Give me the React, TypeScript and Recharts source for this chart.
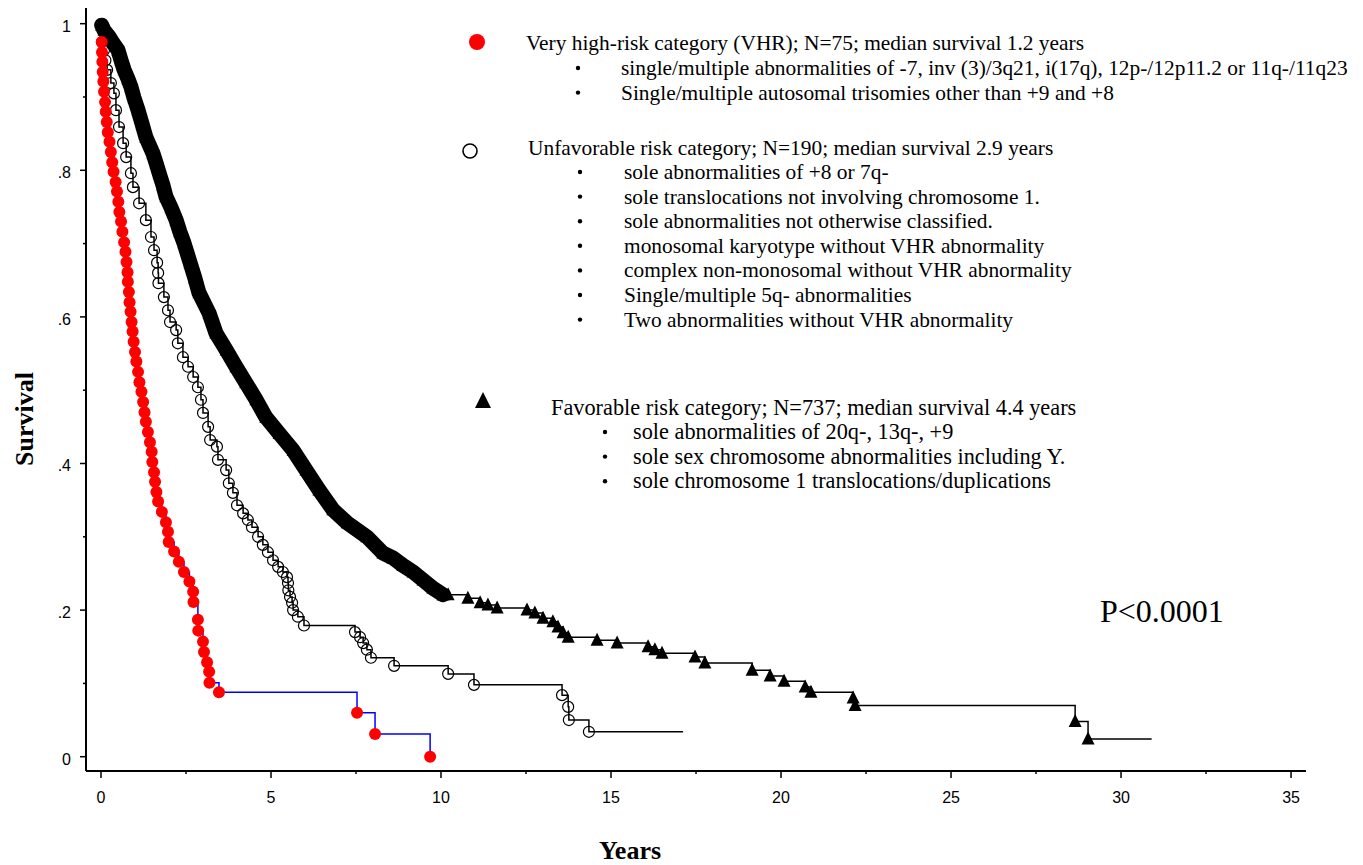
import React from 'react';
import { LineChart, Line, XAxis, YAxis } from 'recharts';

type Pt = { t: number; s: number };

// survival estimates, t in years
const vhrPoints: Pt[] = [
  { t: 0.02, s: 0.975 }, { t: 0.03, s: 0.961 }, { t: 0.04, s: 0.948 }, { t: 0.05, s: 0.934 },
  { t: 0.07, s: 0.921 }, { t: 0.09, s: 0.907 }, { t: 0.12, s: 0.893 }, { t: 0.14, s: 0.88 },
  { t: 0.17, s: 0.866 }, { t: 0.2, s: 0.852 }, { t: 0.25, s: 0.839 }, { t: 0.29, s: 0.825 },
  { t: 0.33, s: 0.811 }, { t: 0.37, s: 0.798 }, { t: 0.43, s: 0.784 }, { t: 0.47, s: 0.771 },
  { t: 0.51, s: 0.757 }, { t: 0.54, s: 0.743 }, { t: 0.59, s: 0.73 }, { t: 0.63, s: 0.716 },
  { t: 0.68, s: 0.702 }, { t: 0.72, s: 0.689 }, { t: 0.75, s: 0.675 }, { t: 0.78, s: 0.661 },
  { t: 0.79, s: 0.648 }, { t: 0.82, s: 0.634 }, { t: 0.84, s: 0.62 }, { t: 0.87, s: 0.607 },
  { t: 0.9, s: 0.593 }, { t: 0.93, s: 0.58 }, { t: 0.96, s: 0.566 }, { t: 1.0, s: 0.552 },
  { t: 1.04, s: 0.539 }, { t: 1.09, s: 0.525 }, { t: 1.13, s: 0.511 }, { t: 1.19, s: 0.498 },
  { t: 1.24, s: 0.484 }, { t: 1.28, s: 0.47 }, { t: 1.32, s: 0.457 }, { t: 1.38, s: 0.443 },
  { t: 1.44, s: 0.429 }, { t: 1.49, s: 0.416 }, { t: 1.51, s: 0.402 }, { t: 1.56, s: 0.388 },
  { t: 1.59, s: 0.375 }, { t: 1.63, s: 0.361 }, { t: 1.68, s: 0.348 }, { t: 1.79, s: 0.334 },
  { t: 1.91, s: 0.32 }, { t: 1.97, s: 0.307 }, { t: 1.99, s: 0.293 }, { t: 2.15, s: 0.28 },
  { t: 2.29, s: 0.266 }, { t: 2.44, s: 0.252 }, { t: 2.6, s: 0.239 }, { t: 2.71, s: 0.225 },
  { t: 2.72, s: 0.211 }, { t: 2.85, s: 0.187 }, { t: 2.86, s: 0.172 }, { t: 3.0, s: 0.157 },
  { t: 3.03, s: 0.143 }, { t: 3.12, s: 0.129 }, { t: 3.18, s: 0.116 }, { t: 3.19, s: 0.101 },
  { t: 3.47, s: 0.088 }, { t: 7.53, s: 0.06 }, { t: 8.06, s: 0.031 }, { t: 9.68, s: 0.0 },
];

const unfavPoints: Pt[] = [
  { t: 0.03, s: 0.975 }, { t: 0.09, s: 0.964 }, { t: 0.13, s: 0.95 }, { t: 0.18, s: 0.937 },
  { t: 0.29, s: 0.919 }, { t: 0.38, s: 0.905 }, { t: 0.44, s: 0.882 }, { t: 0.53, s: 0.859 },
  { t: 0.65, s: 0.837 }, { t: 0.74, s: 0.818 }, { t: 0.88, s: 0.796 }, { t: 0.94, s: 0.777 },
  { t: 1.12, s: 0.755 }, { t: 1.32, s: 0.732 }, { t: 1.47, s: 0.709 }, { t: 1.56, s: 0.691 },
  { t: 1.65, s: 0.674 }, { t: 1.68, s: 0.66 }, { t: 1.69, s: 0.646 }, { t: 1.85, s: 0.627 },
  { t: 1.97, s: 0.609 }, { t: 2.03, s: 0.593 }, { t: 2.21, s: 0.582 }, { t: 2.26, s: 0.564 },
  { t: 2.41, s: 0.545 }, { t: 2.56, s: 0.532 }, { t: 2.71, s: 0.518 }, { t: 2.85, s: 0.504 },
  { t: 2.94, s: 0.487 }, { t: 3.0, s: 0.469 }, { t: 3.15, s: 0.45 }, { t: 3.21, s: 0.432 },
  { t: 3.41, s: 0.423 }, { t: 3.44, s: 0.405 }, { t: 3.68, s: 0.391 }, { t: 3.76, s: 0.373 },
  { t: 3.88, s: 0.36 }, { t: 4.0, s: 0.343 }, { t: 4.18, s: 0.332 }, { t: 4.32, s: 0.323 },
  { t: 4.44, s: 0.313 }, { t: 4.62, s: 0.3 }, { t: 4.76, s: 0.289 }, { t: 4.91, s: 0.279 },
  { t: 5.06, s: 0.268 }, { t: 5.21, s: 0.259 }, { t: 5.35, s: 0.252 }, { t: 5.47, s: 0.245 },
  { t: 5.5, s: 0.237 }, { t: 5.51, s: 0.227 }, { t: 5.56, s: 0.218 }, { t: 5.62, s: 0.21 },
  { t: 5.65, s: 0.2 }, { t: 5.79, s: 0.191 }, { t: 5.97, s: 0.179 }, { t: 7.47, s: 0.17 },
  { t: 7.62, s: 0.163 }, { t: 7.71, s: 0.155 }, { t: 7.82, s: 0.146 }, { t: 7.94, s: 0.135 },
  { t: 8.62, s: 0.124 }, { t: 10.21, s: 0.113 }, { t: 10.97, s: 0.098 }, { t: 13.56, s: 0.084 },
  { t: 13.74, s: 0.068 }, { t: 13.76, s: 0.05 }, { t: 14.35, s: 0.034 },
];
const unfavLastFollowUp = 17.12;

const favPoints: Pt[] = [
  { t: 0.02, s: 0.998 }, { t: 0.09, s: 0.991 }, { t: 0.24, s: 0.982 }, { t: 0.35, s: 0.974 },
  { t: 0.5, s: 0.964 }, { t: 0.59, s: 0.95 }, { t: 0.68, s: 0.937 }, { t: 0.79, s: 0.925 },
  { t: 0.88, s: 0.914 }, { t: 0.97, s: 0.899 }, { t: 1.09, s: 0.882 }, { t: 1.21, s: 0.863 },
  { t: 1.32, s: 0.845 }, { t: 1.53, s: 0.823 }, { t: 1.62, s: 0.81 }, { t: 1.71, s: 0.796 },
  { t: 1.82, s: 0.78 }, { t: 1.91, s: 0.764 }, { t: 2.06, s: 0.749 }, { t: 2.21, s: 0.732 },
  { t: 2.32, s: 0.716 }, { t: 2.44, s: 0.701 }, { t: 2.62, s: 0.674 }, { t: 2.76, s: 0.653 },
  { t: 2.88, s: 0.633 }, { t: 3.18, s: 0.605 }, { t: 3.38, s: 0.578 }, { t: 3.68, s: 0.555 },
  { t: 3.97, s: 0.532 }, { t: 4.26, s: 0.51 }, { t: 4.56, s: 0.487 }, { t: 4.85, s: 0.463 },
  { t: 5.24, s: 0.441 }, { t: 5.65, s: 0.418 }, { t: 6.03, s: 0.391 }, { t: 6.41, s: 0.364 },
  { t: 6.82, s: 0.337 }, { t: 7.24, s: 0.319 }, { t: 7.82, s: 0.3 }, { t: 8.29, s: 0.278 },
  { t: 8.59, s: 0.271 }, { t: 8.88, s: 0.261 }, { t: 9.18, s: 0.252 }, { t: 9.47, s: 0.241 },
  { t: 9.76, s: 0.23 }, { t: 10.06, s: 0.221 }, { t: 10.21, s: 0.221 }, { t: 10.79, s: 0.216 },
  { t: 11.15, s: 0.21 }, { t: 11.38, s: 0.207 }, { t: 11.65, s: 0.203 }, { t: 12.53, s: 0.2 },
  { t: 12.76, s: 0.196 }, { t: 13.0, s: 0.189 }, { t: 13.29, s: 0.184 }, { t: 13.44, s: 0.177 },
  { t: 13.59, s: 0.169 }, { t: 13.74, s: 0.163 }, { t: 14.59, s: 0.159 }, { t: 15.18, s: 0.155 },
  { t: 16.09, s: 0.15 }, { t: 16.29, s: 0.146 }, { t: 16.5, s: 0.141 }, { t: 17.47, s: 0.136 },
  { t: 17.76, s: 0.128 }, { t: 19.15, s: 0.118 }, { t: 19.68, s: 0.11 }, { t: 20.09, s: 0.103 },
  { t: 20.71, s: 0.095 }, { t: 20.88, s: 0.088 }, { t: 22.12, s: 0.08 }, { t: 22.18, s: 0.07 },
  { t: 28.65, s: 0.048 }, { t: 29.03, s: 0.024 },
];
const favLastFollowUp = 30.9;

const xTicks = [0, 2.5, 5, 7.5, 10, 12.5, 15, 17.5, 20, 22.5, 25, 27.5, 30, 32.5, 35];
const yTicks = [0, 0.1, 0.2, 0.3, 0.4, 0.5, 0.6, 0.7, 0.8, 0.9, 1];

const vhrTitle = 'Very high-risk category (VHR); N=75; median survival 1.2 years';
const vhrNotes = [
  'single/multiple abnormalities of -7, inv (3)/3q21, i(17q), 12p-/12p11.2 or 11q-/11q23',
  'Single/multiple autosomal trisomies other than +9 and +8',
];
const unfavTitle = 'Unfavorable risk category; N=190; median survival 2.9 years';
const unfavNotes = [
  'sole abnormalities of +8 or 7q-',
  'sole translocations not involving chromosome 1.',
  'sole abnormalities not otherwise classified.',
  'monosomal karyotype without VHR abnormality',
  'complex non-monosomal without VHR abnormality',
  'Single/multiple 5q- abnormalities',
  'Two abnormalities without VHR abnormality',
];
const favTitle = 'Favorable risk category; N=737; median survival 4.4 years';
const favNotes = [
  'sole abnormalities of 20q-, 13q-, +9',
  'sole sex chromosome abnormalities including Y.',
  'sole chromosome 1 translocations/duplications',
];
const pValue = 'P<0.0001';

const W = 1363;
const H = 865;
const SERIF = "'Liberation Serif', 'Times New Roman', serif";
const SANS = "'Liberation Sans', Arial, sans-serif";
const ROW = 24.6;
const DENSE_END = 10.06; // markers of the favorable group merge into a band before this

// KM step curve: starts at (0,1), optional flat tail to last follow-up
const curve = (pts: Pt[], lastT?: number, fromOrigin = true) => {
  const marked = pts.map((p) => ({ ...p, mark: true }));
  const out = fromOrigin ? [{ t: 0, s: 1, mark: false }, ...marked] : marked;
  if (lastT !== undefined) out.push({ t: lastT, s: pts[pts.length - 1].s, mark: false });
  return out;
};

const vhrData = curve(vhrPoints);
const unfavData = curve(unfavPoints, unfavLastFollowUp);
const favBand = curve(favPoints.filter((p) => p.t <= DENSE_END), undefined, false);
const favTail = curve(favPoints.filter((p) => p.t >= DENSE_END), favLastFollowUp, false);

const RedDot = (p: any) =>
  p.payload && p.payload.mark ? (
    <circle key={`r${p.index}`} cx={p.cx} cy={p.cy} r={6} fill="#ff0000" />
  ) : (
    <g key={`r${p.index}`} />
  );

const OpenDot = (p: any) =>
  p.payload && p.payload.mark ? (
    <circle key={`o${p.index}`} cx={p.cx} cy={p.cy} r={5.5} fill="none" stroke="#000" strokeWidth={1.2} />
  ) : (
    <g key={`o${p.index}`} />
  );

const TriDot = (p: any) =>
  p.payload && p.payload.mark ? (
    <path
      key={`t${p.index}`}
      d={`M${p.cx},${p.cy - 7.5}L${p.cx - 6.5},${p.cy + 5.5}L${p.cx + 6.5},${p.cy + 5.5}Z`}
      fill="#000"
    />
  ) : (
    <g key={`t${p.index}`} />
  );

const XTick = (props: any) => {
  const { x, y, payload } = props;
  const v = payload.value as number;
  const major = Math.abs(v % 5) < 1e-6;
  return (
    <g>
      <line x1={x} x2={x} y1={y} y2={y + (major ? 7 : 3)} stroke="#000" strokeWidth={1.5} />
      {major && (
        <text x={x} y={y + 32} textAnchor="middle" fontFamily={SANS} fontSize={16} fill="#000">
          {v}
        </text>
      )}
    </g>
  );
};

const yLabel = (v: number) => (v === 0 ? '0' : v === 1 ? '1' : v.toFixed(1).replace(/^0/, ''));

const YTick = (props: any) => {
  const { x, y, payload } = props;
  const v = payload.value as number;
  const major = Math.round(v * 10) % 2 === 0;
  return (
    <g>
      <line x1={x} x2={x - (major ? 6 : 3)} y1={y} y2={y} stroke="#000" strokeWidth={1.5} />
      {major && (
        <text x={x - 15} y={y + 8} textAnchor="end" fontFamily={SANS} fontSize={16} fill="#000">
          {yLabel(v)}
        </text>
      )}
    </g>
  );
};

const Annotations = () => (
  <svg width={W} height={H} style={{ position: 'absolute', left: 0, top: 0, pointerEvents: 'none' }}>
    <g fontFamily={SERIF} fontSize={21.4} fill="#000">
      <circle cx={477} cy={42} r={8} fill="#ff0000" />
      <text x={526} y={50}>{vhrTitle}</text>
      {vhrNotes.map((n, i) => (
        <g key={n}>
          <circle cx={578} cy={68 + i * ROW} r={2.2} fill="#000" />
          <text x={621} y={75 + i * ROW}>{n}</text>
        </g>
      ))}

      <circle cx={470} cy={151} r={7} fill="none" stroke="#000" strokeWidth={1.6} />
      <text x={528} y={155}>{unfavTitle}</text>
      {unfavNotes.map((n, i) => (
        <g key={n}>
          <circle cx={580} cy={172 + i * ROW} r={2.2} fill="#000" />
          <text x={624} y={179 + i * ROW}>{n}</text>
        </g>
      ))}

      <path d="M483,392L475,408L491,408Z" fill="#000" />
      <g fontSize={22.3}>
        <text x={551} y={415}>{favTitle}</text>
        {favNotes.map((n, i) => (
          <g key={n}>
            <circle cx={605} cy={432 + i * ROW} r={2.2} fill="#000" />
            <text x={633} y={439 + i * ROW}>{n}</text>
          </g>
        ))}
      </g>

      <text x={1100} y={622} fontSize={32}>{pValue}</text>
      <text transform="translate(33,419) rotate(-90)" textAnchor="middle" fontSize={26} fontWeight="bold">
        Survival
      </text>
      <text x={630} y={859} textAnchor="middle" fontSize={26} fontWeight="bold">
        Years
      </text>
    </g>
  </svg>
);

export default function App() {
  return (
    <div style={{ position: 'absolute', left: 0, top: 0, width: W, height: H, background: '#fff' }}>
      <LineChart width={W} height={H} margin={{ top: 8, right: 57, bottom: 64, left: 0 }}>
        <XAxis
          type="number"
          dataKey="t"
          domain={[-0.441, 35.44]}
          allowDataOverflow
          ticks={xTicks}
          interval={0}
          height={30}
          tickSize={0}
          tickMargin={0}
          tickLine={false}
          tick={<XTick />}
          axisLine={{ stroke: '#000', strokeWidth: 2 }}
        />
        <YAxis
          type="number"
          dataKey="s"
          domain={[-0.0195, 1.0214]}
          allowDataOverflow
          ticks={yTicks}
          interval={0}
          width={86}
          tickSize={0}
          tickMargin={0}
          tickLine={false}
          tick={<YTick />}
          axisLine={{ stroke: '#000', strokeWidth: 2 }}
        />
        <Line
          data={favBand}
          dataKey="s"
          type="linear"
          stroke="#000"
          strokeWidth={15}
          strokeLinejoin="round"
          strokeLinecap="round"
          dot={TriDot}
          activeDot={false}
          isAnimationActive={false}
        />
        <Line
          data={favTail}
          dataKey="s"
          type="stepAfter"
          stroke="#000"
          strokeWidth={1.5}
          dot={TriDot}
          activeDot={false}
          isAnimationActive={false}
        />
        <Line
          data={unfavData}
          dataKey="s"
          type="stepAfter"
          stroke="#000"
          strokeWidth={1.5}
          dot={OpenDot}
          activeDot={false}
          isAnimationActive={false}
        />
        <Line
          data={vhrData}
          dataKey="s"
          type="stepAfter"
          stroke="#0000ff"
          strokeWidth={1.5}
          dot={RedDot}
          activeDot={false}
          isAnimationActive={false}
        />
      </LineChart>
      <Annotations />
    </div>
  );
}
